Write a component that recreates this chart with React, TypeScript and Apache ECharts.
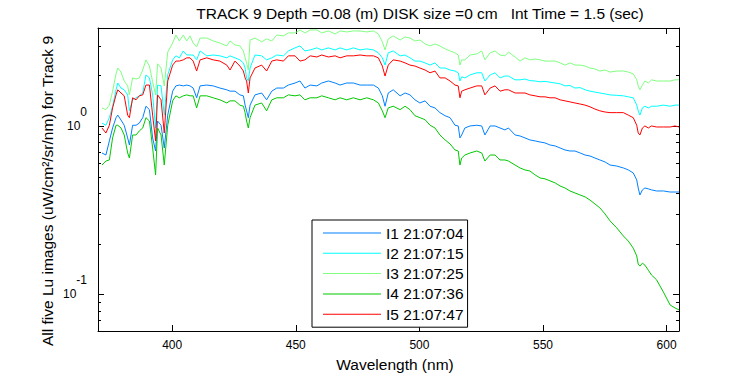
import React, { useEffect, useRef } from 'react';
import * as echarts from 'echarts';

// Wavelength samples (nm)
const wavelengths = [
  371.6, 373.2, 374.6, 375.9, 377.3, 378.0, 379.3, 380.6, 382.0, 382.7,
  384.0, 385.4, 386.7, 388.1, 389.4, 390.8, 392.1, 393.3, 394.1, 395.5,
  396.8, 398.2, 400.2, 401.5, 402.9, 404.5, 405.9, 407.2, 408.5, 409.9,
  411.3, 414.0, 416.6, 419.3, 422.1, 423.4, 425.4, 427.4, 428.8, 429.5,
  430.1, 430.8, 431.5, 433.5, 436.2, 438.2, 440.3, 442.3, 445.0, 447.0,
  449.7, 451.7, 453.7, 455.8, 458.5, 460.5, 463.2, 465.9, 467.9, 470.6,
  473.3, 476.0, 478.7, 481.4, 483.4, 485.0, 486.1, 487.4, 489.4, 492.2,
  494.2, 496.2, 498.2, 500.2, 502.3, 504.3, 506.3, 508.3, 510.4, 512.4,
  514.4, 515.7, 516.4, 517.1, 518.4, 520.5, 523.2, 525.2, 526.5, 528.6,
  530.6, 532.6, 534.6, 536.0, 538.7, 540.7, 542.7, 544.7, 546.8, 548.8,
  550.8, 552.8, 554.9, 556.9, 558.9, 560.9, 562.9, 565.0, 567.0, 569.0,
  571.0, 573.0, 575.1, 577.1, 579.8, 582.5, 584.5, 586.5, 587.9, 588.5,
  589.2, 590.2, 591.2, 592.6, 593.9, 595.9, 598.7, 601.4, 603.4, 605.0,
];

// I1 21:07:04 (blue)
const I1 = [
  0.691, 0.672, 0.815, 0.973, 1.12, 1.16, 1.085, 1.01, 0.849, 0.771,
  1.01, 1.01, 1.04, 1.12, 1.31, 1.25, 0.849, 0.710, 1.07, 1.01,
  0.740, 1.16, 1.61, 1.73, 1.75, 1.73, 1.75, 1.73, 1.68, 1.47,
  1.73, 1.75, 1.73, 1.68, 1.64, 1.61, 1.61, 1.53, 1.51, 1.33,
  1.23, 1.12, 1.33, 1.53, 1.57, 1.43, 1.61, 1.68, 1.68, 1.75,
  1.80, 1.85, 1.68, 1.75, 1.73, 1.80, 1.85, 1.80, 1.75, 1.80,
  1.80, 1.75, 1.75, 1.75, 1.68, 1.51, 1.31, 1.57, 1.64, 1.51,
  1.57, 1.53, 1.43, 1.37, 1.41, 1.31, 1.28, 1.20, 1.15, 1.12,
  1.01, 1.00, 0.849, 0.884, 0.973, 1.00, 1.01, 1.00, 0.884, 1.00,
  1.00, 0.973, 0.947, 0.973, 0.884, 0.872, 0.849, 0.826, 0.815, 0.803,
  0.793, 0.771, 0.761, 0.740, 0.720, 0.710, 0.710, 0.691, 0.672, 0.663,
  0.645, 0.628, 0.611, 0.586, 0.578, 0.563, 0.548, 0.526, 0.478, 0.428,
  0.389, 0.417, 0.428, 0.423, 0.417, 0.411, 0.411, 0.405, 0.405, 0.405,
];

// I2 21:07:15 (cyan)
const I2 = [
  1.04, 1.01, 1.12, 1.31, 1.64, 1.80, 1.68, 1.64, 1.53, 1.23,
  1.43, 1.47, 1.51, 1.57, 2.01, 1.93, 1.53, 0.973, 1.75, 1.73,
  1.16, 2.01, 2.47, 2.61, 2.54, 2.79, 2.64, 2.64, 2.64, 2.47,
  2.79, 2.61, 2.64, 2.61, 2.54, 2.61, 2.54, 2.47, 2.37, 2.21,
  1.93, 1.85, 2.21, 2.64, 2.61, 2.47, 2.54, 2.64, 2.61, 2.79,
  2.91, 2.99, 2.79, 2.83, 2.91, 2.83, 2.91, 2.83, 2.91, 2.83,
  2.91, 2.83, 2.87, 2.83, 2.72, 2.54, 2.30, 2.72, 2.79, 2.61,
  2.64, 2.54, 2.43, 2.43, 2.37, 2.30, 2.37, 2.21, 2.21, 2.15,
  2.12, 2.07, 1.85, 1.96, 1.93, 2.01, 2.07, 2.07, 1.85, 2.01,
  2.07, 1.93, 1.98, 1.98, 1.88, 1.88, 1.90, 1.86, 1.85, 1.83,
  1.84, 1.82, 1.80, 1.78, 1.73, 1.74, 1.68, 1.69, 1.64, 1.61,
  1.59, 1.57, 1.55, 1.53, 1.52, 1.51, 1.49, 1.47, 1.33, 1.23,
  1.16, 1.28, 1.31, 1.28, 1.31, 1.31, 1.33, 1.31, 1.33, 1.33,
];

// I3 21:07:25 (light green)
const I3 = [
  1.28, 1.25, 1.33, 1.61, 2.04, 2.21, 2.09, 1.85, 1.73, 1.53,
  1.93, 1.90, 1.93, 2.15, 2.47, 2.27, 1.83, 1.53, 2.34, 2.21,
  1.73, 2.75, 3.11, 3.47, 3.20, 3.47, 3.20, 3.43, 3.11, 2.95,
  3.33, 3.33, 3.20, 3.11, 2.99, 3.20, 3.03, 2.99, 2.79, 2.54,
  2.37, 2.15, 3.24, 3.33, 3.16, 3.29, 3.20, 3.47, 3.43, 3.57,
  3.57, 3.72, 3.57, 3.72, 3.72, 3.57, 3.67, 3.52, 3.67, 3.62,
  3.67, 3.67, 3.62, 3.67, 3.52, 3.16, 2.83, 3.29, 3.43, 3.24,
  3.38, 3.33, 3.20, 3.24, 3.07, 2.99, 3.07, 2.99, 2.87, 2.79,
  2.72, 2.64, 2.30, 2.47, 2.47, 2.64, 2.68, 2.79, 2.47, 2.72,
  2.79, 2.64, 2.61, 2.75, 2.57, 2.43, 2.54, 2.47, 2.50, 2.47,
  2.43, 2.43, 2.43, 2.37, 2.30, 2.37, 2.30, 2.30, 2.27, 2.21,
  2.18, 2.12, 2.15, 2.09, 2.12, 2.12, 2.09, 2.04, 1.88, 1.73,
  1.64, 1.75, 1.85, 1.80, 1.88, 1.85, 1.85, 1.85, 1.88, 1.88,
];

// I4 21:07:36 (green)
const I4 = [
  0.586, 0.619, 0.628, 0.849, 1.01, 1.01, 0.973, 0.884, 0.691, 0.645,
  0.884, 0.884, 0.934, 0.973, 1.12, 1.07, 0.740, 0.512, 0.973, 0.884,
  0.586, 1.01, 1.41, 1.51, 1.47, 1.51, 1.53, 1.51, 1.51, 1.28,
  1.51, 1.51, 1.47, 1.43, 1.37, 1.41, 1.41, 1.33, 1.31, 1.20,
  1.07, 0.973, 1.12, 1.33, 1.37, 1.23, 1.43, 1.47, 1.47, 1.53,
  1.51, 1.53, 1.43, 1.47, 1.47, 1.51, 1.47, 1.43, 1.47, 1.43,
  1.47, 1.43, 1.47, 1.43, 1.37, 1.23, 1.12, 1.28, 1.31, 1.25,
  1.31, 1.25, 1.15, 1.12, 1.09, 1.01, 0.973, 0.884, 0.826, 0.782,
  0.720, 0.710, 0.586, 0.645, 0.672, 0.691, 0.710, 0.691, 0.619, 0.672,
  0.672, 0.628, 0.628, 0.619, 0.586, 0.563, 0.548, 0.540, 0.512, 0.491,
  0.485, 0.472, 0.459, 0.440, 0.428, 0.411, 0.400, 0.389, 0.379, 0.363,
  0.344, 0.326, 0.300, 0.273, 0.248, 0.222, 0.207, 0.188, 0.169, 0.151,
  0.147, 0.153, 0.149, 0.139, 0.130, 0.122, 0.103, 0.0864, 0.0829, 0.0807,
];

// I5 21:07:47 (red)
const I5 = [
  0.973, 0.908, 1.01, 1.28, 1.53, 1.64, 1.57, 1.51, 1.16, 1.12,
  1.47, 1.43, 1.51, 1.53, 1.75, 1.75, 1.16, 0.815, 1.53, 1.43,
  0.908, 1.85, 2.30, 2.43, 2.43, 2.47, 2.54, 2.54, 2.43, 2.12,
  2.47, 2.54, 2.47, 2.43, 2.30, 2.15, 2.43, 2.27, 2.12, 1.93,
  1.85, 1.57, 1.93, 2.21, 2.30, 2.12, 2.43, 2.47, 2.43, 2.61,
  2.61, 2.43, 2.47, 2.61, 2.57, 2.64, 2.57, 2.61, 2.54, 2.61,
  2.61, 2.64, 2.61, 2.61, 2.54, 2.27, 1.98, 2.30, 2.47, 2.43,
  2.37, 2.30, 2.27, 2.21, 2.15, 2.07, 2.12, 1.93, 1.93, 1.85,
  1.75, 1.73, 1.47, 1.61, 1.64, 1.68, 1.73, 1.73, 1.53, 1.68,
  1.73, 1.61, 1.64, 1.64, 1.57, 1.57, 1.57, 1.53, 1.51, 1.49,
  1.49, 1.47, 1.47, 1.43, 1.41, 1.39, 1.37, 1.35, 1.33, 1.30,
  1.26, 1.23, 1.21, 1.20, 1.20, 1.20, 1.16, 1.12, 1.01, 0.908,
  0.884, 0.973, 1.00, 0.973, 1.00, 0.986, 0.986, 0.986, 1.00, 0.986,
];

const seriesNames = ['I1 21:07:04', 'I2 21:07:15', 'I3 21:07:25', 'I4 21:07:36', 'I5 21:07:47'];
const seriesValues = [I1, I2, I3, I4, I5];
const seriesColors = ['#0080ff', '#00ffff', '#80ff80', '#00c800', '#ff0000'];

const xTickValues = [400, 450, 500, 550, 600];
const minorYTicks = [0.07, 0.08, 0.09, 0.2, 0.3, 0.4, 0.5, 0.6, 0.7, 0.8, 0.9, 2, 3];

const X_MIN = 370;
const X_MAX = 605;
const Y_MIN = 0.0605;
const Y_MAX = 3.82;

const TITLE = 'TRACK 9 Depth =0.08 (m) DISK size =0 cm   Int Time = 1.5 (sec)';
const X_NAME = 'Wavelength (nm)';
const Y_NAME = 'All five Lu images (uW/cm\u00B2/sr/nm) for Track 9';

const FONT = '"Liberation Sans", Arial, Helvetica, sans-serif';
const BIG = 15.5;

export default function App() {
  const ref = useRef<HTMLDivElement>(null);

  useEffect(() => {
    if (!ref.current) return;
    const chart = echarts.init(ref.current, undefined, { renderer: 'svg' });

    const axisLineStyle = { lineStyle: { color: '#000', width: 1 } };
    const textEl = (text: string, x: number, y: number, rotation = 0) => ({
      type: 'text',
      x,
      y,
      rotation,
      silent: true,
      style: {
        text,
        font: `${BIG}px ${FONT}`,
        fill: '#000',
        align: 'center',
        verticalAlign: 'middle',
        textAlign: 'center',
        textVerticalAlign: 'middle',
      },
    });

    const option: any = {
      animation: false,
      backgroundColor: '#fff',
      textStyle: { fontFamily: FONT },
      grid: { left: 98, top: 28, width: 581, height: 303, containLabel: false, outerBoundsMode: 'none' },
      xAxis: [
        {
          type: 'value',
          min: X_MIN,
          max: X_MAX,
          position: 'bottom',
          axisLine: { show: true, ...axisLineStyle },
          axisTick: { show: true, inside: true, length: 6, lineStyle: { color: '#000' } },
          axisLabel: {
            color: '#000',
            fontSize: 12,
            fontFamily: FONT,
            margin: 8,
            showMinLabel: false,
            showMaxLabel: false,
            formatter: (v: number) => (xTickValues.includes(Math.round(v)) && Math.abs(v - Math.round(v)) < 1e-6 ? String(Math.round(v)) : ''),
          },
          splitLine: { show: false },
        },
        {
          type: 'value',
          min: X_MIN,
          max: X_MAX,
          position: 'top',
          axisLine: { show: true, ...axisLineStyle },
          axisTick: { show: true, inside: true, length: 6, lineStyle: { color: '#000' } },
          axisLabel: { show: false },
          splitLine: { show: false },
        },
      ],
      yAxis: [
        {
          type: 'log',
          logBase: 10,
          min: Y_MIN,
          max: Y_MAX,
          position: 'left',
          axisLine: { show: true, ...axisLineStyle },
          axisTick: { show: true, inside: true, length: 6, lineStyle: { color: '#000' } },
          axisLabel: {
            color: '#000',
            margin: 11,
            formatter: (v: number) => {
              const e = Math.log10(v);
              const r = Math.round(e);
              if (Math.abs(e - r) > 1e-6) return '';
              return `{b|10}{s|${r}}`;
            },
            rich: {
              b: { fontSize: 12, lineHeight: 40, fontFamily: FONT, color: '#000', verticalAlign: 'middle' },
              s: { fontSize: 12, lineHeight: 13, verticalAlign: 'top', fontFamily: FONT, color: '#000' },
            },
          },
          splitLine: { show: false },
        },
        {
          type: 'log',
          logBase: 10,
          min: Y_MIN,
          max: Y_MAX,
          position: 'right',
          axisLine: { show: true, ...axisLineStyle },
          axisTick: { show: true, inside: true, length: 6, lineStyle: { color: '#000' } },
          axisLabel: { show: false },
          splitLine: { show: false },
        },
      ],
      legend: {
        show: true,
        data: seriesNames,
        orient: 'vertical',
        left: 312,
        top: 220,
        padding: [5, 4, 5, 11],
        itemGap: 4.3,
        itemWidth: 58,
        itemHeight: 1,
        icon: 'rect',
        selectedMode: false,
        borderColor: '#000',
        borderWidth: 1,
        borderRadius: 0,
        backgroundColor: '#fff',
        textStyle: { color: '#000', fontSize: BIG, fontFamily: FONT, lineHeight: 15 },
      },
      graphic: [
        textEl(TITLE, 420, 13),
        textEl(X_NAME, 395, 364),
        textEl(Y_NAME, 47, 191, Math.PI / 2),
      ],
      series: [
        ...seriesNames.map((name, i) => ({
          name,
          type: 'line',
          xAxisIndex: 0,
          yAxisIndex: 0,
          data: wavelengths.map((w, j) => [w, seriesValues[i][j]]),
          symbol: 'none',
          showSymbol: false,
          smooth: false,
          silent: true,
          color: seriesColors[i],
          lineStyle: { color: seriesColors[i], width: 1 },
          itemStyle: { color: seriesColors[i] },
          emphasis: { disabled: true },
          z: 2 + i,
        })),
        {
          type: 'custom',
          name: 'minorTicks',
          coordinateSystem: 'cartesian2d',
          xAxisIndex: 0,
          yAxisIndex: 0,
          silent: true,
          clip: false,
          z: 20,
          data: minorYTicks.map((v) => [X_MIN, v]),
          renderItem: (_params: any, api: any) => {
            const v = api.value(1);
            const l = api.coord([X_MIN, v]);
            const r = api.coord([X_MAX, v]);
            const y = Math.round(l[1]) + 0.5;
            return {
              type: 'group',
              children: [
                { type: 'line', shape: { x1: l[0], y1: y, x2: l[0] + 3, y2: y }, style: { stroke: '#000', lineWidth: 1 } },
                { type: 'line', shape: { x1: r[0] - 3, y1: y, x2: r[0], y2: y }, style: { stroke: '#000', lineWidth: 1 } },
              ],
            };
          },
        },
      ],
    };

    chart.setOption(option);
    return () => {
      chart.dispose();
    };
  }, []);

  return (
    <div
      ref={ref}
      style={{ position: 'fixed', left: 0, top: 0, width: 750, height: 375, background: '#fff' }}
    />
  );
}
